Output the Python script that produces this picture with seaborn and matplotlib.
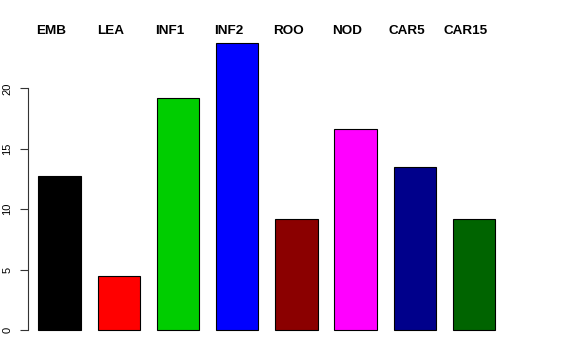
import matplotlib
matplotlib.use("Agg")
import matplotlib.pyplot as plt
import seaborn as sns
import pandas as pd

categories = ["EMB", "LEA", "INF1", "INF2", "ROO", "NOD", "CAR5", "CAR15"]
values = [12.75, 4.47, 19.2, 23.76, 9.19, 16.64, 13.47, 9.19]
colors = ["#000000", "#FF0000", "#00CD00", "#0000FF", "#8B0000", "#FF00FF", "#00008B", "#006400"]
yticks = [0, 5, 10, 15, 20]

sns.set_style("white")
plt.rcParams["font.family"] = ["Liberation Sans", "DejaVu Sans"]
plt.rcParams["text.color"] = "black"
plt.rcParams["ytick.color"] = "black"

df = pd.DataFrame({"tissue": categories, "value": values})

fig = plt.figure(figsize=(5.76, 3.6), dpi=100)
ax = fig.add_axes([28.3 / 576, (360 - 341.5) / 360, 483.7 / 576, 309.3 / 360])

sns.barplot(data=df, x="tissue", y="value", hue="tissue", palette=colors,
            legend=False, width=0.716, edgecolor="black", linewidth=0.8,
            saturation=1, ax=ax)

ax.set_xlim(-0.527, 7.64)
ax.set_ylim(-0.95, 24.65)
ax.set_xticks([])
ax.set_xlabel("")
ax.set_ylabel("")
for s in ["top", "right", "bottom"]:
    ax.spines[s].set_visible(False)
ax.spines["left"].set_bounds(0, 20)
ax.spines["left"].set_color("#333333")
ax.spines["left"].set_linewidth(0.8)
ax.set_yticks(yticks)
ax.set_yticklabels([str(t) for t in yticks], rotation=90, va="center", fontsize=8,
                   color="black")
ax.tick_params(axis="y", direction="out", length=5.5, width=0.8, color="#333333",
               labelcolor="black", pad=6, left=True)

trans = ax.get_xaxis_transform()
for i, name in enumerate(categories):
    ax.text(i - 0.14, 1.004, name, transform=trans, ha="center", va="center",
            fontsize=9.7, fontweight="bold", color="black", clip_on=False)

fig.savefig("out.png", dpi=100)
